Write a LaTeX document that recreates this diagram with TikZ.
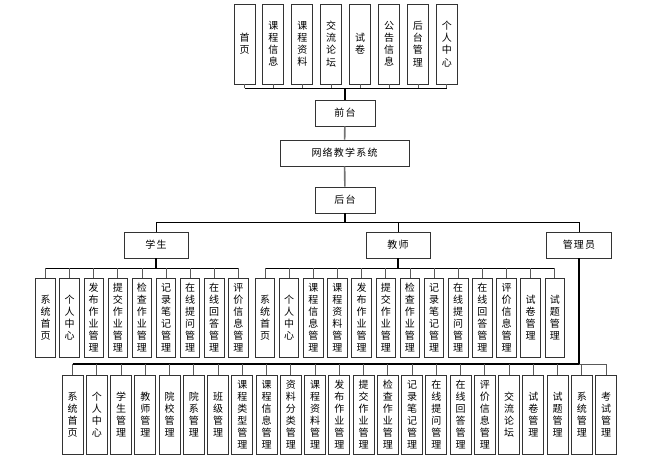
\documentclass[tikz,border=0pt]{standalone}
\usepackage{fontspec}
\setmainfont{Noto Sans CJK SC}
\begin{document}
\begin{tikzpicture}[x=1pt,y=-1pt,
  box/.style={draw=black!80,line width=0.9pt,fill=white,inner sep=0pt,font=\fontsize{10}{12.1}\selectfont},
  vbox/.style={box,minimum width=#1,minimum height=79,align=center},
  hbox/.style={box,minimum height=26,font=\fontsize{10}{12}\selectfont\addfontfeature{LetterSpace=12}},
  trunk/.style={line width=1.6pt,black},
  graytrunk/.style={line width=1.6pt,black!55},
  bus/.style={line width=1pt,black},
  tick/.style={line width=0.8pt,black!65}]
\useasboundingbox (0,0) rectangle (645,460);

% top row
\foreach \t [count=\i from 0] in {{首\\页},{课\\程\\信\\息},{课\\程\\资\\料},{交\\流\\论\\坛},{试\\卷},{公\\告\\信\\息},{后\\台\\管\\理},{个\\人\\中\\心}}{
  \node[box,minimum width=21,minimum height=80,align=center] (t\i) at ({244.5+28.9*\i},44) {\t};
}
\coordinate (tbus) at (345,88);
\draw[bus] (t0.south |- tbus) -- (t7.south |- tbus);
\foreach \i in {0,...,7}{\draw[tick] (t\i.south) -- (t\i.south |- tbus);}

\node[hbox,minimum width=60] (front) at (345,113) {前台};
\node[hbox,minimum width=129] (sys) at (344.5,153) {网络教学系统};
\node[hbox,minimum width=60] (back) at (345,200) {后台};
\draw[trunk] (tbus) -- (front);
\draw[graytrunk] (front) -- (sys);
\draw[graytrunk] (sys) -- (back);

% roles
\node[hbox,minimum width=64] (stu) at (156,245) {学生};
\node[hbox,minimum width=64] (tea) at (398,245) {教师};
\node[hbox,minimum width=65] (adm) at (579,245) {管理员};
\coordinate (rbus) at (345,222);
\draw[trunk] (back) -- (rbus);
\draw[bus] (stu.north |- rbus) -- (adm.north |- rbus);
\draw[bus] (stu.north |- rbus) -- (stu.north);
\draw[bus] (tea.north |- rbus) -- (tea.north);
\draw[bus] (adm.north |- rbus) -- (adm.north);

% student children
\foreach \t [count=\i from 0] in {{系\\统\\首\\页},{个\\人\\中\\心},{发\\布\\作\\业\\管\\理},{提\\交\\作\\业\\管\\理},{检\\查\\作\\业\\管\\理},{记\\录\\笔\\记\\管\\理},{在\\线\\提\\问\\管\\理},{在\\线\\回\\答\\管\\理},{评\\价\\信\\息\\管\\理}}{
  \node[vbox=19.5] (s\i) at ({45.5+24.1*\i},317.5) {\t};
}
\coordinate (sbus) at (156,268);
\draw[trunk] (stu) -- (sbus);
\draw[bus] (s0.north |- sbus) -- (s8.north |- sbus);
\foreach \i in {0,...,8}{\draw[tick] (s\i.north) -- (s\i.north |- sbus);}

% teacher children
\foreach \t [count=\i from 0] in {{系\\统\\首\\页},{个\\人\\中\\心},{课\\程\\信\\息\\管\\理},{课\\程\\资\\料\\管\\理},{发\\布\\作\\业\\管\\理},{提\\交\\作\\业\\管\\理},{检\\查\\作\\业\\管\\理},{记\\录\\笔\\记\\管\\理},{在\\线\\提\\问\\管\\理},{在\\线\\回\\答\\管\\理},{评\\价\\信\\息\\管\\理},{试\\卷\\管\\理},{试\\题\\管\\理}}{
  \node[vbox=19.5] (e\i) at ({265+24.15*\i},317.5) {\t};
}
\coordinate (ebus) at (398,268);
\draw[trunk] (tea) -- (ebus);
\draw[bus] (e0.north |- ebus) -- (e12.north |- ebus);
\foreach \i in {0,...,12}{\draw[tick] (e\i.north) -- (e\i.north |- ebus);}

% admin children
\foreach \t [count=\i from 0] in {{系\\统\\首\\页},{个\\人\\中\\心},{学\\生\\管\\理},{教\\师\\管\\理},{院\\校\\管\\理},{院\\系\\管\\理},{班\\级\\管\\理},{课\\程\\类\\型\\管\\理},{课\\程\\信\\息\\管\\理},{资\\料\\分\\类\\管\\理},{课\\程\\资\\料\\管\\理},{发\\布\\作\\业\\管\\理},{提\\交\\作\\业\\管\\理},{检\\查\\作\\业\\管\\理},{记\\录\\笔\\记\\管\\理},{在\\线\\提\\问\\管\\理},{在\\线\\回\\答\\管\\理},{评\\价\\信\\息\\管\\理},{交\\流\\论\\坛},{试\\卷\\管\\理},{试\\题\\管\\理},{系\\统\\管\\理},{考\\试\\管\\理}}{
  \node[vbox=21] (a\i) at ({72.5+24.25*\i},414.5) {\t};
}
\coordinate (abus) at (579,364);
\draw[trunk] (adm) -- (abus);
\draw[trunk] (a0.north |- abus) -- (abus);
\draw[tick] (abus) -- (a22.north |- abus);
\foreach \i in {0,...,22}{\draw[tick] (a\i.north) -- (a\i.north |- abus);}
\end{tikzpicture}
\end{document}
